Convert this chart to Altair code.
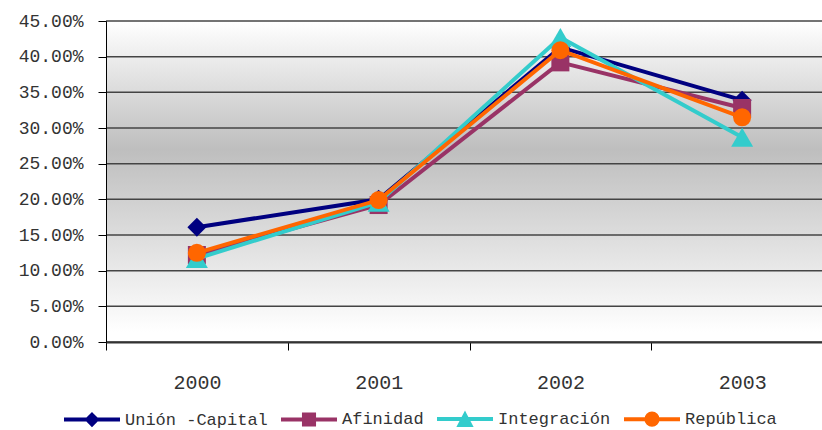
import altair as alt
import pandas as pd

years = ["2000", "2001", "2002", "2003"]
series_names = ["Unión -Capital", "Afinidad", "Integración", "República"]
union_capital = [0.161, 0.200, 0.413, 0.339]
afinidad = [0.122, 0.192, 0.392, 0.328]
integracion = [0.117, 0.196, 0.427, 0.287]
republica = [0.125, 0.199, 0.409, 0.315]
colors = ["#000080", "#993366", "#33CCCC", "#FF6600"]
markers = ["diamond", "square", "triangle-up", "circle"]
marker_sizes = [361, 324, 484, 324]
y_ticks = [0.0, 0.05, 0.10, 0.15, 0.20, 0.25, 0.30, 0.35, 0.40, 0.45]

# legend symbols: a line with the marker (outline + inner outline, drawn with a thick stroke)
legend_paths = [
    "M-1,0H1M0,-0.17L0.17,0L0,0.17L-0.17,0ZM0,-0.06L0.06,0L0,0.06L-0.06,0Z",
    "M-1,0H1M-0.18,-0.18H0.18V0.18H-0.18ZM-0.06,-0.06H0.06V0.06H-0.06Z",
    "M-1,0H1M0,-0.15L0.19,0.21L-0.19,0.21ZM0,-0.02L0.07,0.12L-0.07,0.12Z",
    "M-1,0H1M-0.2,0A0.2,0.2,0,1,0,0.2,0A0.2,0.2,0,1,0,-0.2,0ZM-0.07,0A0.07,0.07,0,1,0,0.07,0A0.07,0.07,0,1,0,-0.07,0Z",
]

values = [union_capital, afinidad, integracion, republica]
rows = []
for s, vals, m, ms in zip(series_names, values, markers, marker_sizes):
    for yr, v in zip(years, vals):
        rows.append({"year": yr, "series": s, "value": v, "marker": m, "msize": ms})
df = pd.DataFrame(rows)
grid_df = pd.DataFrame({"value": y_ticks})

FONT = "Liberation Mono"
TXT = "#333333"

x_enc = alt.X(
    "year:N",
    scale=alt.Scale(domain=years, range=[0, 727], paddingInner=0, paddingOuter=0),
    axis=alt.Axis(
        title=None, labelAngle=0, tickBand="extent", tickSize=8, tickColor="#000000",
        domainColor="#333333", domainWidth=2, labelFont=FONT, labelFontSize=20,
        labelColor=TXT, labelPadding=22, labelBaseline="top", grid=False, zindex=1,
    ),
)
y_scale = alt.Scale(domain=[0, 0.45], nice=False, zero=True)
y_axis = alt.Axis(
    title=None, format=".2%", values=y_ticks, tickSize=8, tickColor="#000000",
    domainColor="#000000", domainWidth=1, grid=False, labelFont=FONT,
    labelFontSize=18, labelColor=TXT, labelPadding=15, zindex=1,
)
y_enc = alt.Y("value:Q", scale=y_scale, axis=y_axis)
color_scale = alt.Scale(domain=series_names, range=colors)
shape_scale = alt.Scale(domain=series_names, range=legend_paths)

legend = alt.Legend(
    orient="none", legendX=-44, legendY=368, direction="horizontal", title=None,
    symbolSize=3136, symbolStrokeWidth=4, symbolOpacity=1, labelFont=FONT,
    labelFontSize=17, labelColor=TXT, labelOffset=3, columnPadding=5, padding=0,
)
color_enc = alt.Color("series:N", scale=color_scale, legend=legend)

gradient = alt.LinearGradient(
    gradient="linear",
    stops=[
        alt.GradientStop(color="#FFFFFF", offset=0),
        alt.GradientStop(color="#BEBEBE", offset=0.4),
        alt.GradientStop(color="#FFFFFF", offset=0.97),
        alt.GradientStop(color="#FFFFFF", offset=1),
    ],
    x1=0, x2=0, y1=0, y2=1,
)

bg = alt.Chart(pd.DataFrame({"a": [0]})).mark_rect(color=gradient).encode(
    x=alt.value(0), x2=alt.value("width"), y=alt.value(0), y2=alt.value("height")
)
grid = alt.Chart(grid_df).mark_rule(color="#444444", strokeWidth=1.5).encode(y=y_enc)

layers = [bg, grid]
for s in series_names:
    sub = alt.Chart(df).transform_filter(alt.datum.series == s)
    line = sub.mark_line(strokeWidth=4).encode(x=x_enc, y=y_enc, color=color_enc)
    pts = sub.mark_point(filled=True, opacity=1).encode(
        x=x_enc, y=y_enc, color=color_enc,
        shape=alt.Shape("marker:N", scale=None),
        size=alt.Size("msize:Q", scale=None),
    )
    layers += [line, pts]

legend_layer = alt.Chart(df).mark_point(filled=False, opacity=0).encode(
    x=x_enc, y=y_enc, color=color_enc,
    shape=alt.Shape("series:N", scale=shape_scale, legend=legend),
)
layers.append(legend_layer)

chart = alt.layer(*layers).properties(
    width=716, height=321,
    autosize=alt.AutoSizeParams(type="none"),
    padding={"left": 106, "top": 21, "right": 0, "bottom": 88},
).configure_view(stroke=None).configure(background="#FFFFFF")

chart.save("out.html", embed_options={"renderer": "svg", "actions": False})
